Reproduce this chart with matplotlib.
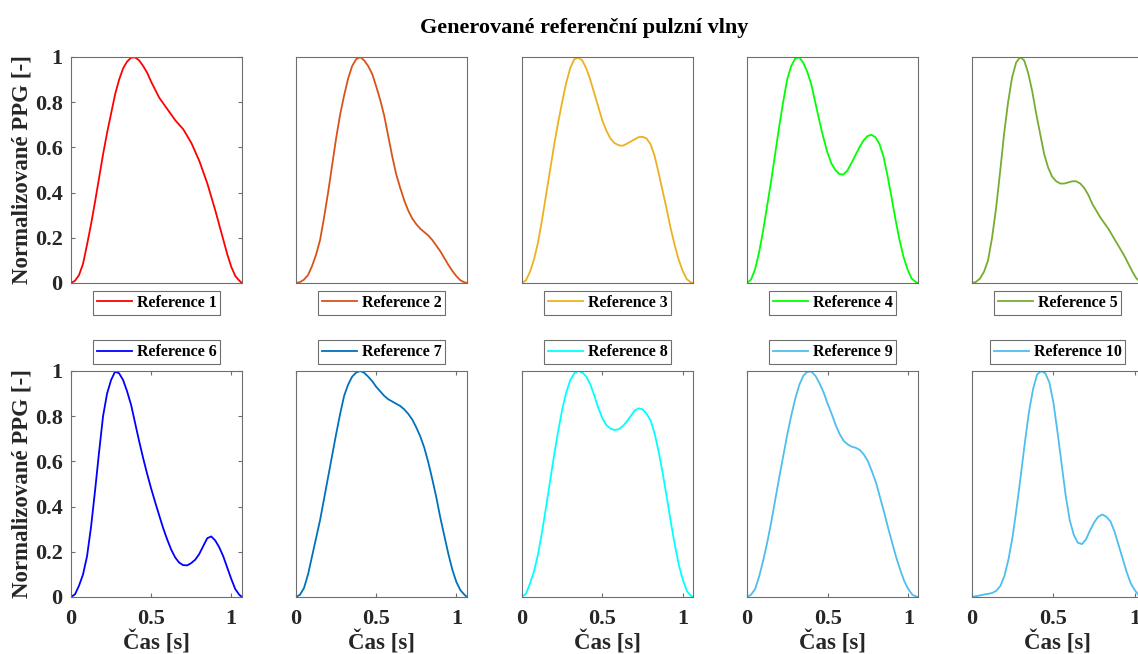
import matplotlib.pyplot as plt

plt.rcParams['font.family'] = ['Liberation Serif', 'DejaVu Serif']
plt.rcParams['font.weight'] = 'bold'

# sample times [s], shared by all waves (step 25 ms)
t = [0.000, 0.025, 0.050, 0.075, 0.100, 0.125, 0.150, 0.175, 0.200, 0.225,
     0.250, 0.275, 0.300, 0.325, 0.350, 0.375, 0.400, 0.425, 0.450, 0.475,
     0.500, 0.525, 0.550, 0.575, 0.600, 0.625, 0.650, 0.675, 0.700, 0.725,
     0.750, 0.775, 0.800, 0.825, 0.850, 0.875, 0.900, 0.925, 0.950, 0.975,
     1.000, 1.025, 1.050]

# wave length [s] of each reference (last sample, value 0)
t_end = [1.066, 1.066, 1.065, 1.065, 1.066, 1.067, 1.066, 1.0625, 1.06, 1.05]

# normalised PPG
y1 = [0, .01, .035, .085, .17, .26, .36, .465, .57, .665,
      .75, .835, .90, .95, .98, .997, .998, .985, .96, .93,
      .89, .855, .82, .795, .77, .745, .72, .70, .68, .65,
      .62, .58, .54, .49, .44, .38, .32, .255, .19, .125,
      .07, .03, .01]
y2 = [0, .004, .015, .035, .075, .125, .19, .29, .40, .52,
      .64, .745, .83, .905, .96, .99, 1.0, .985, .96, .925,
      .87, .81, .74, .65, .56, .48, .42, .365, .32, .285,
      .26, .24, .225, .21, .19, .165, .14, .11, .08, .053,
      .03, .012, .003]
y3 = [0, .012, .05, .105, .18, .28, .39, .50, .61, .71,
      .80, .885, .95, .99, .997, .985, .95, .90, .84, .78,
      .72, .675, .64, .62, .61, .607, .615, .625, .635, .645,
      .647, .64, .615, .565, .49, .41, .33, .245, .17, .105,
      .055, .018, .003]
y4 = [0, .015, .06, .135, .23, .34, .45, .57, .69, .80,
      .90, .96, .993, .999, .975, .935, .88, .80, .72, .645,
      .58, .53, .50, .482, .48, .497, .53, .565, .60, .63,
      .65, .656, .645, .615, .56, .475, .38, .28, .19, .115,
      .06, .02, .005]
y5 = [0, .005, .02, .05, .10, .20, .33, .49, .66, .80,
      .91, .975, 1.0, .985, .93, .85, .75, .66, .57, .51,
      .47, .45, .44, .44, .445, .45, .45, .44, .42, .39,
      .35, .32, .29, .265, .24, .21, .18, .15, .12, .085,
      .05, .02, .005]
y6 = [0, .012, .05, .10, .18, .31, .47, .64, .80, .90,
      .96, .997, .99, .96, .91, .85, .77, .69, .615, .545,
      .48, .42, .362, .305, .255, .21, .175, .152, .141, .14,
      .15, .165, .19, .225, .26, .268, .25, .22, .18, .13,
      .08, .035, .01]
y7 = [0, .01, .04, .10, .18, .26, .34, .435, .53, .625,
      .72, .81, .89, .94, .975, .993, 1.0, .992, .975, .955,
      .93, .91, .89, .875, .865, .855, .845, .83, .81, .785,
      .75, .71, .66, .595, .52, .44, .35, .27, .19, .12,
      .066, .03, .01]
y8 = [0, .015, .06, .115, .19, .29, .40, .515, .63, .735,
      .83, .905, .96, .99, 1.0, .993, .975, .94, .89, .835,
      .79, .76, .745, .739, .742, .755, .775, .80, .825, .835,
      .83, .81, .78, .72, .64, .545, .44, .33, .23, .14,
      .075, .025, .005]
y9 = [0, .01, .035, .09, .16, .24, .33, .43, .53, .625,
      .72, .805, .88, .94, .98, .997, .997, .978, .945, .905,
      .855, .81, .76, .72, .69, .675, .665, .66, .65, .63,
      .60, .555, .505, .44, .375, .305, .24, .175, .12, .07,
      .035, .01, .002]
y10 = [0, .004, .007, .011, .014, .018, .028, .05, .095, .17,
       .27, .40, .54, .685, .82, .92, .985, 1.0, .99, .95,
       .86, .73, .59, .45, .34, .275, .24, .234, .255, .295,
       .33, .355, .365, .355, .335, .29, .23, .17, .11, .06,
       .03, .006, 0]

values = [y1, y2, y3, y4, y5, y6, y7, y8, y9, y10]
labels = ['Reference %d' % (i + 1) for i in range(10)]
colors = ['#ff0000', '#d95319', '#edb120', '#00ff00', '#77ac30',
          '#0000ff', '#0072bd', '#00ffff', '#4dbeee', '#4dbeee']

fig = plt.figure(figsize=(11.38, 6.54), dpi=100)

lefts = [71, 296, 522, 747, 972]
row_tops = [57, 371]
W, H = 1138, 654

for i in range(10):
    row, col = divmod(i, 5)
    ax = fig.add_axes([lefts[col] / W, 1 - (row_tops[row] + 226) / H, 171 / W, 226 / H])
    ax.plot(t + [t_end[i]], values[i] + [0], color=colors[i], lw=1.3, label=labels[i])
    ax.set_xlim(0, t_end[i])
    ax.set_ylim(0, 1)
    for s in ax.spines.values():
        s.set_color('#6e6e6e')
        s.set_linewidth(0.8)
    ax.tick_params(direction='in', top=True, right=True, length=3,
                   color='#6e6e6e', labelcolor='#262626', labelsize=16)
    ax.tick_params(axis='x', pad=9)
    ax.tick_params(axis='y', pad=6)
    if col == 0:
        ax.set_yticks([0, 0.2, 0.4, 0.6, 0.8, 1])
        ax.set_yticklabels(['0', '0.2', '0.4', '0.6', '0.8', '1'])
        ax.set_ylabel('Normalizované PPG [-]', fontsize=16.5, fontweight='bold',
                      color='#262626', labelpad=2)
    else:
        ax.set_yticks([])
    leg_kw = dict(borderaxespad=0, borderpad=0.25, handlelength=2.2, handletextpad=0.3,
                  fancybox=False, framealpha=1, edgecolor='#6e6e6e',
                  prop={'size': 11.5, 'weight': 'bold'})
    if row == 1:
        ax.set_xticks([0, 0.5, 1])
        ax.set_xticklabels(['0', '0.5', '1'])
        ax.set_xlabel('Čas [s]', fontsize=16.5, fontweight='bold', color='#262626', labelpad=1)
        leg = ax.legend(loc='lower center', bbox_to_anchor=(0.5, 1.029), **leg_kw)
    else:
        ax.set_xticks([])
        leg = ax.legend(loc='upper center', bbox_to_anchor=(0.5, -0.035), **leg_kw)
    leg.get_frame().set_linewidth(0.8)

fig.text(0.5136, 0.957, 'Generované referenční pulzní vlny', ha='center', va='center',
         fontsize=16, fontweight='bold')

fig.savefig('out.png', dpi=100)
